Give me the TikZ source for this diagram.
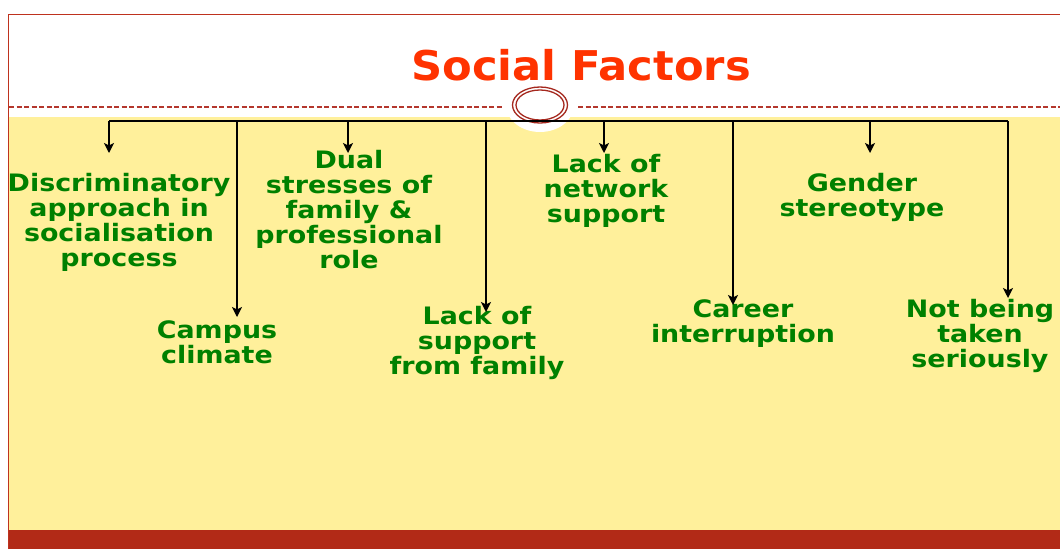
\documentclass[tikz,border=0pt]{standalone}
\usepackage{fontspec}
\setmainfont{DejaVu Sans}
\newfontfamily\factorfont[FakeStretch=1.12]{DejaVu Sans}
\newfontfamily\titlefont[FakeStretch=1.055]{DejaVu Sans}
\usetikzlibrary{arrows.meta}
\definecolor{slideyellow}{RGB}{255,240,155}
\definecolor{slidered}{RGB}{178,42,23}
\definecolor{framered}{RGB}{190,50,30}
\definecolor{dashred}{RGB}{180,55,45}
\definecolor{ringred}{RGB}{165,40,30}
\definecolor{titleorange}{RGB}{255,51,0}
\definecolor{factorgreen}{RGB}{0,128,0}
\tikzset{
  factor/.style={text=factorgreen, font=\factorfont\fontsize{24}{25}\selectfont\bfseries, align=center, inner sep=0pt},
  bus/.style={draw=black, line width=1.5pt},
  feed/.style={draw=black, line width=1.5pt, -{Stealth[length=10pt,width=10pt,inset=2.5pt]}},
  rule/.style={draw=dashred, line width=1.1pt, dash pattern=on 5pt off 2.5pt},
}
\begin{document}
\begin{tikzpicture}[x=1pt,y=-1pt]
\useasboundingbox (0,0) rectangle (1060,549);
% slide background
\fill[slideyellow] (9,117) rectangle (1060,530);
\fill[slidered] (8,530) rectangle (1060,549);
\draw[framered, line width=1pt] (8.5,549) -- (8.5,14.5) -- (1060,14.5);
% dashed rule
\draw[rule] (9,107) -- (503,107);
\draw[rule] (578,107) -- (1060,107);
% ring emblem
\fill[white] (540,105) ellipse [x radius=34, y radius=27];
\draw[ringred, line width=1.3pt] (540,105) ellipse [x radius=27.5, y radius=18];
\draw[ringred, line width=1.3pt] (540,105) ellipse [x radius=24, y radius=15];
% title
\node[text=titleorange, font=\titlefont\fontsize{41}{41}\selectfont\bfseries, anchor=base] (title) at (581,80) {Social Factors};
% factor nodes
\node[factor] (f1) at (119,222) {Discriminatory\\approach in\\socialisation\\process};
\node[factor] (f2) at (217,342) {Campus\\climate};
\node[factor] (f3) at (349,210) {Dual\\stresses of\\family \&\\professional\\role};
\node[factor] (f4) at (477,343) {Lack of\\support\\from family};
\node[factor] (f5) at (606,191) {Lack of\\network\\support};
\node[factor] (f6) at (743,324) {Career\\interruption};
\node[factor] (f7) at (862,197) {Gender\\stereotype};
\node[factor] (f8) at (980,336) {Not being\\taken\\seriously};
% bus
\coordinate (b1) at (109,121);
\coordinate (b2) at (237,121);
\coordinate (b3) at (348,121);
\coordinate (b4) at (486,121);
\coordinate (b5) at (604,121);
\coordinate (b6) at (733,121);
\coordinate (b7) at (870,121);
\coordinate (b8) at (1008,121);
\draw[bus] (b1) -- (b8);
% arrow tips
\coordinate (t1) at (109,153);
\coordinate (t2) at (237,317);
\coordinate (t3) at (348,153);
\coordinate (t4) at (486,312);
\coordinate (t5) at (604,153);
\coordinate (t6) at (733,305);
\coordinate (t7) at (870,153);
\coordinate (t8) at (1008,298);
\foreach \i in {1,...,8} {\draw[feed] (b\i) -- (t\i);}
\end{tikzpicture}
\end{document}
